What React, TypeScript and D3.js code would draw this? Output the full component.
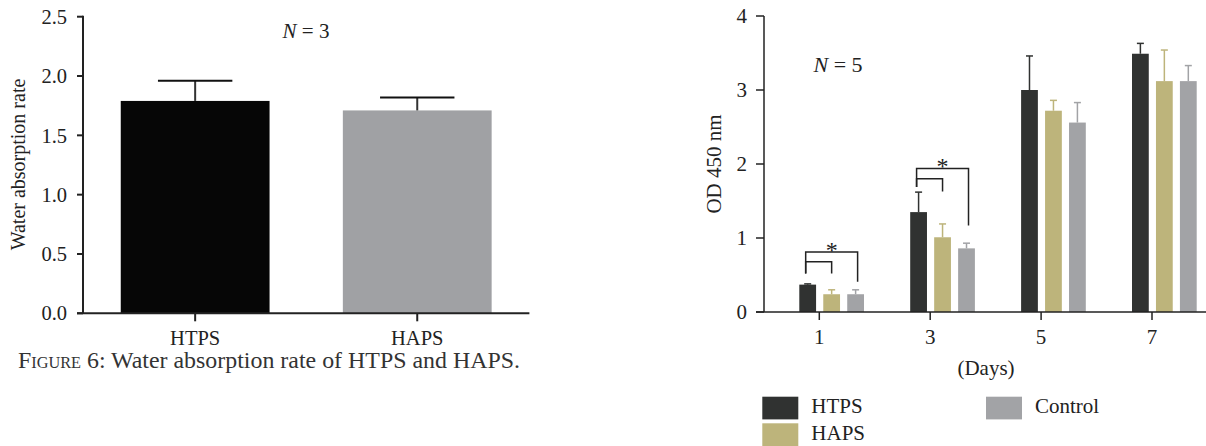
import * as d3 from "d3";

// left panel: water absorption
const absCategories = ["HTPS", "HAPS"];
const absMeans = [1.79, 1.71];
const absErr = [1.96, 1.82];
const absColors = ["#060606", "#a0a1a4"];
const absTicks = [0, 0.5, 1.0, 1.5, 2.0, 2.5];

// right panel: OD 450 nm
const days = [1, 3, 5, 7];
const groups = ["HTPS", "HAPS", "Control"];
const htpsOD = [0.37, 1.35, 3.0, 3.49];
const hapsOD = [0.24, 1.01, 2.72, 3.12];
const ctrlOD = [0.24, 0.86, 2.56, 3.12];
const htpsTop = [0.38, 1.62, 3.46, 3.63];
const hapsTop = [0.3, 1.19, 2.86, 3.54];
const ctrlTop = [0.3, 0.93, 2.83, 3.33];
const odColors = ["#303231", "#bdb47b", "#a2a3a6"];
const odTicks = [0, 1, 2, 3, 4];

// significance brackets: [day, outerTop, innerTop, leftFoot, innerFoot, outerFoot]
const brackets = [
  [1, 0.81, 0.68, 0.52, 0.52, 0.41],
  [3, 1.94, 1.8, 1.69, 1.63, 1.17],
];

const FONT = "'Liberation Serif', 'Times New Roman', serif";
const INK = "#222";

function LeftChart() {
  const y = d3.scaleLinear().domain([0, 2.5]).range([313.3, 16.7]);
  const x = d3.scaleBand().domain(absCategories).range([83, 529.4]).paddingInner(0.33).paddingOuter(0.17);
  const bw = x.bandwidth();
  return (
    <g>
      {absCategories.map((c, i) => {
        const cx = (x(c) as number) + bw / 2;
        return (
          <g key={c}>
            <rect x={x(c)} y={y(absMeans[i])} width={bw} height={y(0) - y(absMeans[i])} fill={absColors[i]} />
            <line x1={cx} x2={cx} y1={y(absMeans[i])} y2={y(absErr[i])} stroke="#333" strokeWidth={2} />
            <line x1={cx - bw / 4} x2={cx + bw / 4} y1={y(absErr[i])} y2={y(absErr[i])} stroke="#111" strokeWidth={2} />
            <line x1={cx} x2={cx} y1={y(0)} y2={y(0) + 8} stroke={INK} strokeWidth={2} />
            <text x={cx} y={345} textAnchor="middle" fontSize={20.5} fill={INK}>{c}</text>
          </g>
        );
      })}
      <line x1={83} x2={83} y1={y(2.5) - 1} y2={y(0)} stroke={INK} strokeWidth={2} />
      <line x1={77} x2={529.4} y1={y(0)} y2={y(0)} stroke={INK} strokeWidth={2} />
      {absTicks.map((t) => (
        <g key={t}>
          <line x1={77} x2={83} y1={y(t)} y2={y(t)} stroke={INK} strokeWidth={2} />
          <text x={67} y={y(t)} dy="0.35em" textAnchor="end" fontSize={20.5} fill={INK}>{t.toFixed(1)}</text>
        </g>
      ))}
      <text transform="translate(25,164.5) rotate(-90)" textAnchor="middle" fontSize={20} fill={INK}>
        Water absorption rate
      </text>
      <text x={306} y={38} textAnchor="middle" fontSize={21} fill={INK}>
        <tspan fontStyle="italic">N</tspan> = 3
      </text>
      <text x={18} y={368} fontSize={23.5} fill="#333" textLength={502} lengthAdjust="spacingAndGlyphs">
        <tspan fontVariant="small-caps">Figure</tspan> 6: Water absorption rate of HTPS and HAPS.
      </text>
    </g>
  );
}

function RightChart() {
  const y = d3.scaleLinear().domain([0, 4]).range([312, 16]);
  const x = d3.scalePoint<number>().domain(days).range([819.3, 1152]);
  const inner = d3.scaleBand().domain(groups).range([-20, 44.7]).paddingInner(0.3);
  const bw = inner.bandwidth();
  const means = [htpsOD, hapsOD, ctrlOD];
  const tops = [htpsTop, hapsTop, ctrlTop];
  const cxOf = (d: number, g: string) => (x(d) as number) + (inner(g) as number) + bw / 2;
  return (
    <g>
      {days.map((d, di) => (
        <g key={d}>
          {groups.map((g, gi) => {
            const bx = (x(d) as number) + (inner(g) as number);
            const cx = bx + bw / 2;
            const v = means[gi][di];
            const e = tops[gi][di];
            return (
              <g key={g}>
                <rect x={bx} y={y(v)} width={bw} height={y(0) - y(v)} fill={odColors[gi]} />
                <line x1={cx} x2={cx} y1={y(v)} y2={y(e)} stroke={odColors[gi]} strokeWidth={1.5} />
                <line x1={cx - 3.5} x2={cx + 3.5} y1={y(e)} y2={y(e)} stroke={odColors[gi]} strokeWidth={1.5} />
              </g>
            );
          })}
          <line x1={x(d)} x2={x(d)} y1={y(0)} y2={y(0) + 8} stroke={INK} strokeWidth={1.5} />
          <text x={x(d)} y={344} textAnchor="middle" fontSize={21} fill={INK}>{d}</text>
        </g>
      ))}
      {brackets.map(([d, outer, innerTop, leftFoot, innerFoot, outerFoot]) => {
        const l = cxOf(d, "HTPS") - 2;
        const m = cxOf(d, "HAPS");
        const r = cxOf(d, "Control") + 2;
        return (
          <g key={d} fill="none" stroke={INK} strokeWidth={1.5}>
            <path d={`M${l},${y(leftFoot)}V${y(outer)}H${r}V${y(outerFoot)}`} />
            <path d={`M${l},${y(leftFoot)}V${y(innerTop)}H${m}V${y(innerFoot)}`} />
            <text x={m} y={y(outer) + 6} textAnchor="middle" fontSize={24} fill={INK} stroke="none">*</text>
          </g>
        );
      })}
      <line x1={764} x2={764} y1={y(4)} y2={y(0)} stroke={INK} strokeWidth={1.5} />
      <line x1={756} x2={1206} y1={y(0)} y2={y(0)} stroke={INK} strokeWidth={1.5} />
      {odTicks.map((t) => (
        <g key={t}>
          <line x1={756} x2={764} y1={y(t)} y2={y(t)} stroke={INK} strokeWidth={1.5} />
          <text x={747} y={y(t)} dy="0.35em" textAnchor="end" fontSize={21} fill={INK}>{t}</text>
        </g>
      ))}
      <text transform="translate(721,164) rotate(-90)" textAnchor="middle" fontSize={21} fill={INK}>
        OD 450 nm
      </text>
      <text x={838} y={72} textAnchor="middle" fontSize={22} fill={INK}>
        <tspan fontStyle="italic">N</tspan> = 5
      </text>
      <text x={986} y={375} textAnchor="middle" fontSize={21} fill={INK}>(Days)</text>
      {groups.map((g, gi) => {
        const lx = gi === 2 ? 986 : 762.3;
        const ly = gi === 1 ? 423.3 : 396.7;
        return (
          <g key={g}>
            <rect x={lx} y={ly} width={36} height={22.7} fill={odColors[gi]} />
            <text x={lx + 49} y={ly + 16.5} fontSize={21} fill={INK}>{g}</text>
          </g>
        );
      })}
    </g>
  );
}

export default function App() {
  return (
    <svg
      width={1206}
      height={446}
      style={{ position: "absolute", left: 0, top: 0, background: "#fff", fontFamily: FONT }}
    >
      <LeftChart />
      <RightChart />
    </svg>
  );
}
